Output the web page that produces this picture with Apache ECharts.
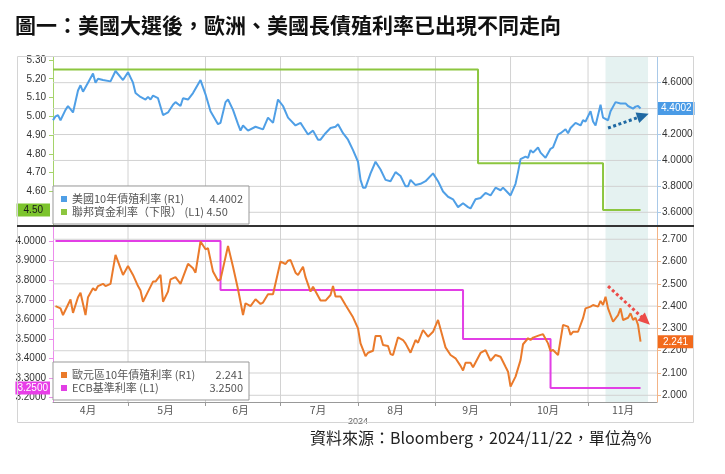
<!DOCTYPE html>
<html><head><meta charset="utf-8">
<script src="https://cdn.jsdelivr.net/npm/echarts@6/dist/echarts.min.js"></script>
<style>html,body{margin:0;padding:0;background:#fff}#c{width:725px;height:474px}</style>
</head><body><div id="c"></div>
<script>
const YEAR = 2024;
// US 10Y yield (right axis, top panel)
const usDates = ['04-01','04-02','04-03','04-04','04-06','04-07','04-09','04-11','04-12','04-13','04-15','04-17','04-18','04-19','04-21','04-24','04-26','04-29',
'05-01','05-03','05-04','05-06','05-08','05-09','05-10','05-11','05-13','05-15','05-17','05-19','05-20','05-22','05-23','05-25','05-27','05-30',
'06-01','06-03','06-06','06-07','06-09','06-10','06-12','06-14','06-15','06-16','06-18','06-21','06-24','06-26','06-28','06-30',
'07-02','07-04','07-07','07-09','07-10','07-12','07-14','07-16','07-17','07-19','07-21','07-23','07-24','07-26','07-28','07-30',
'08-01','08-02','08-03','08-04','08-06','08-08','08-10','08-12','08-14','08-16','08-18','08-20','08-21','08-22','08-24','08-26','08-28','08-31',
'09-02','09-04','09-06','09-08','09-10','09-12','09-14','09-15','09-17','09-19','09-21','09-23','09-25','09-27','09-28','09-29',
'10-01','10-03','10-04','10-05','10-07','10-08','10-09','10-10','10-12','10-13','10-15','10-17','10-18','10-20','10-21','10-23','10-24','10-25','10-27','10-29','10-30','10-31',
'11-02','11-03','11-04','11-06','11-07','11-09','11-10','11-12','11-14','11-16','11-17','11-19','11-20','11-21','11-22'];
const usYield = [4.31,4.34,4.35,4.31,4.39,4.42,4.37,4.54,4.58,4.53,4.60,4.67,4.60,4.63,4.62,4.61,4.69,4.62,
4.68,4.60,4.52,4.49,4.47,4.49,4.47,4.50,4.48,4.35,4.37,4.43,4.45,4.42,4.48,4.47,4.52,4.62,
4.51,4.38,4.28,4.29,4.45,4.47,4.39,4.28,4.23,4.27,4.23,4.26,4.24,4.33,4.29,4.47,
4.42,4.33,4.27,4.29,4.26,4.20,4.23,4.16,4.16,4.21,4.25,4.26,4.28,4.21,4.16,4.08,
3.99,3.85,3.79,3.79,3.90,3.99,3.93,3.85,3.84,3.91,3.88,3.80,3.80,3.85,3.81,3.82,3.84,3.90,
3.84,3.76,3.72,3.70,3.64,3.67,3.64,3.63,3.70,3.71,3.75,3.73,3.79,3.77,3.79,3.77,
3.73,3.82,3.91,4.01,4.03,4.02,4.08,4.06,4.10,4.06,4.02,4.09,4.10,4.20,4.21,4.24,4.21,4.25,4.29,4.27,4.31,4.30,
4.38,4.30,4.27,4.43,4.33,4.31,4.38,4.45,4.44,4.44,4.42,4.40,4.415,4.42,4.4002];
// Euro area 10Y yield (right axis, bottom panel)
const euDates = ['04-02','04-04','04-05','04-08','04-09','04-11','04-12','04-14','04-15','04-17','04-18','04-19','04-21','04-22','04-24','04-26','04-29',
'05-01','05-03','05-05','05-06','05-07','05-09','05-11','05-12','05-14','05-15','05-17','05-18','05-20','05-22','05-25','05-27','05-28','05-30',
'06-01','06-02','06-04','06-06','06-07','06-10','06-12','06-14','06-16','06-17','06-19','06-21','06-23','06-24','06-26','06-28',
'07-01','07-03','07-04','07-05','07-07','07-08','07-10','07-11','07-13','07-14','07-17','07-19','07-21','07-22','07-23','07-25','07-27','07-30',
'08-01','08-02','08-04','08-05','08-07','08-08','08-10','08-11','08-13','08-14','08-15','08-17','08-19','08-20','08-22','08-24','08-25','08-27','08-29','08-31',
'09-02','09-04','09-05','09-07','09-09','09-11','09-12','09-13','09-15','09-16','09-19','09-21','09-23','09-25','09-27','09-29','09-30',
'10-01','10-03','10-05','10-06','10-08','10-09','10-10','10-13','10-14','10-16','10-17','10-18','10-20','10-22','10-24','10-25','10-26','10-28','10-30','10-31',
'11-02','11-03','11-05','11-06','11-07','11-08','11-09','11-11','11-13','11-14','11-15','11-17','11-18','11-19','11-20','11-21','11-22'];
const euYield = [2.40,2.39,2.36,2.43,2.37,2.44,2.46,2.36,2.44,2.48,2.47,2.49,2.50,2.49,2.50,2.63,2.54,
2.58,2.54,2.49,2.47,2.42,2.465,2.51,2.51,2.54,2.42,2.465,2.52,2.53,2.50,2.59,2.57,2.55,2.69,
2.655,2.66,2.555,2.514,2.52,2.67,2.577,2.476,2.36,2.413,2.40,2.431,2.41,2.416,2.453,2.453,
2.60,2.589,2.604,2.607,2.55,2.54,2.577,2.53,2.465,2.487,2.425,2.425,2.45,2.49,2.443,2.443,2.405,2.35,
2.30,2.233,2.176,2.191,2.20,2.266,2.266,2.226,2.221,2.185,2.181,2.26,2.248,2.233,2.191,2.248,2.236,2.293,2.263,2.285,
2.338,2.256,2.215,2.181,2.166,2.132,2.111,2.146,2.146,2.126,2.19,2.203,2.155,2.181,2.173,2.128,2.106,
2.039,2.084,2.158,2.229,2.256,2.248,2.259,2.271,2.274,2.233,2.199,2.203,2.181,2.316,2.308,2.271,2.285,2.285,2.346,2.39,
2.398,2.405,2.398,2.423,2.405,2.442,2.39,2.33,2.36,2.39,2.338,2.348,2.368,2.338,2.348,2.316,2.241];
// Policy rates (left axes), each value holds from its date until the next
const fedDates = ['04-01','09-18','11-07','11-22'];
const fedRate = [5.25,4.75,4.50,4.50];
const ecbDates = ['04-02','06-07','09-12','10-17','11-22'];
const ecbRate = [4.00,3.75,3.50,3.25,3.25];
// Axis ticks / labels
const monthStarts = ['05-01','06-01','07-01','08-01','09-01','10-01','11-01'];
const monthLabelDates = ['04-15','05-16','06-15','07-16','08-16','09-15','10-16','11-15'];
const monthLabels = ['4月','5月','6月','7月','8月','9月','10月','11月'];
const yearLabelDate = '08-01';
const yearLabel = '2024';
const fedTicks = [4.6,4.7,4.8,4.9,5.0,5.1,5.2,5.3];
const usTicks = [3.6,3.8,4.0,4.2,4.4,4.6];
const ecbTicks = [3.2,3.3,3.4,3.5,3.6,3.7,3.8,3.9,4.0];
const euTicks = [2.0,2.1,2.2,2.3,2.4,2.5,2.6,2.7];
// Annotations
const shadeRange = ['11-08','11-25'];
const usArrow = [['11-09',4.25],['11-23',4.345]];
const euArrow = [['11-09',2.49],['11-24',2.335]];

const nameUS = '美國10年債殖利率 (R1)';
const nameFed = '聯邦資金利率（下限） (L1)';
const nameEU = '歐元區10年債殖利率 (R1)';
const nameECB = 'ECB基準利率 (L1)';

const d = s => { const p = s.split('-'); return +new Date(YEAR, +p[0] - 1, +p[1]); };
const pair = (ds, vs) => ds.map((t, i) => [d(t), vs[i]]);
const lastOf = a => a[a.length - 1];
const legendValue = {};
legendValue[nameUS] = lastOf(usYield).toFixed(4);
legendValue[nameFed] = lastOf(fedRate).toFixed(2);
legendValue[nameEU] = lastOf(euYield).toFixed(3);
legendValue[nameECB] = lastOf(ecbRate).toFixed(4);

const C = {us:'#4f9fe6', fed:'#8cc63f', eu:'#ea7a2b', ecb:'#e23fe5'};
const NUMF = 'Liberation Sans';
const CJK = 'Noto Sans CJK TC';
const pad2 = n => String(n).padStart(2, '0');
const mmdd = v => { const t = new Date(v); return pad2(t.getMonth() + 1) + '-' + pad2(t.getDate()); };
const xMin = +new Date(2024, 3, 1);
const xMax = +new Date(2024, 10, 28, 14);
const AX = {fed: [4.42, 5.316], us: [3.502, 4.798], ecb: [3.178, 4.0715], eu: [1.970, 2.755]};

function yAx(grid, pos, ext, ticks, dec, col) {
  return {
    type: 'value', gridIndex: grid, position: pos, min: ext[0], max: ext[1],
    axisLine: {show: true, lineStyle: {color: col, width: 1}},
    axisTick: {show: true, length: 4, customValues: ticks, lineStyle: {color: col}},
    axisLabel: {customValues: ticks, margin: pos === 'left' ? 7 : 5, fontSize: 10, fontFamily: NUMF, color: '#333',
      formatter: v => Number(v).toFixed(dec)},
    splitLine: {show: false}
  };
}

function legend(top, names) {
  return {
    data: names, orient: 'vertical', left: 53, top: top, itemWidth: 6, itemHeight: 6, itemGap: 1, icon: 'rect',
    padding: [7, 6, 6, 8], backgroundColor: '#fff', borderColor: '#999', borderWidth: 1, borderRadius: 0,
    selectedMode: false, z: 6,
    textStyle: {fontFamily: CJK, fontSize: 11, color: '#555', lineHeight: 12,
      rich: {a: {width: 128, fontSize: 11, color: '#555', fontFamily: CJK},
             b: {width: 43, align: 'right', fontSize: 11, color: '#555', fontFamily: CJK},
             c: {fontSize: 11, color: '#555', fontFamily: CJK}}},
    formatter: n => n === nameFed ? '{c|' + n + ' ' + legendValue[n] + '}' : '{a|' + n + '}{b|' + legendValue[n] + '}'
  };
}

function valueLabel(val, text, pos, bg, fg, padX) {
  return {yAxis: val, lineStyle: {color: 'rgba(0,0,0,0)', width: 1}, symbol: 'none',
    label: {show: true, position: pos, distance: pos === 'start' ? 3 : 1, formatter: text, backgroundColor: bg, color: fg,
      padding: [2, padX, 1, padX], fontSize: 10, fontFamily: NUMF}};
}
function arrow(pts, col) {
  return [{coord: [d(pts[0][0]), pts[0][1]], symbol: 'none', lineStyle: {color: col, width: 3, type: [3, 2.5]}, label: {show: false}},
          {coord: [d(pts[1][0]), pts[1][1]], symbol: 'triangle', symbolSize: [11, 12]}];
}
const shade = {silent: true, itemStyle: {color: 'rgba(150,205,200,0.25)'}, data: [[{xAxis: d(shadeRange[0])}, {xAxis: d(shadeRange[1])}]]};
// light gridlines (month starts + right-axis ticks), each a thin line series under the data
function gridSeries(xi, yi, ticks, ext) {
  const segs = monthStarts.map(m => [[d(m), ext[0]], [d(m), ext[1]]])
    .concat(ticks.map(v => [[xMin, v], [xMax, v]]));
  return segs.map(s => ({type: 'line', xAxisIndex: xi, yAxisIndex: yi, data: s, symbol: 'none', showSymbol: false,
    silent: true, z: 1, animation: false, lineStyle: {color: '#d2d2d2', width: 1, type: 'solid'}, itemStyle: {color: '#d2d2d2'}}));
}

const chart = echarts.init(document.getElementById('c'), null, {renderer: 'canvas'});
chart.setOption({
  animation: false,
  backgroundColor: '#fff',
  title: [
    {text: '圖一：美國大選後，歐洲、美國長債殖利率已出現不同走向', left: 15, top: 15, padding: 0,
     textStyle: {fontFamily: CJK, fontSize: 21, fontWeight: 'bold', color: '#111'}},
    {text: '資料來源：Bloomberg，2024/11/22，單位為%', left: 310, top: 430, padding: 0,
     textStyle: {fontFamily: CJK, fontSize: 16, fontWeight: 'normal', color: '#222'}}
  ],
  graphic: [
    {type: 'rect', shape: {x: 17.5, y: 56.5, width: 676, height: 366}, style: {fill: 'none', stroke: '#d4d4d4', lineWidth: 1}, z: 10, silent: true},
    {type: 'line', shape: {x1: 17, y1: 226, x2: 694, y2: 226}, style: {stroke: '#333', lineWidth: 2}, z: 10, silent: true}
  ],
  legend: [legend(186, [nameUS, nameFed]), legend(362, [nameEU, nameECB])],
  grid: [
    {left: 53, top: 57, width: 604, height: 168, outerBoundsMode: 'none'},
    {left: 53, top: 227, width: 604, height: 175, outerBoundsMode: 'none'}
  ],
  xAxis: [
    {type: 'value', gridIndex: 0, min: xMin, max: xMax,
     axisLine: {show: false}, axisTick: {show: false}, axisLabel: {show: false}, splitLine: {show: false}},
    {type: 'value', gridIndex: 1, min: xMin, max: xMax,
     axisLine: {show: true, lineStyle: {color: '#999'}},
     axisTick: {show: true, length: 4, customValues: monthStarts.map(d), lineStyle: {color: '#999'}},
     axisLabel: {customValues: monthLabelDates.map(d).concat([d(yearLabelDate)]), margin: 3, fontSize: 10.5, fontFamily: CJK, color: '#555',
       hideOverlap: false,
       formatter: v => { const k = mmdd(v); if (k === yearLabelDate) return '{y|' + yearLabel + '}'; const i = monthLabelDates.indexOf(k); return i >= 0 ? monthLabels[i] : ''; },
       rich: {y: {fontSize: 9, color: '#666', fontFamily: NUMF, padding: [12, 0, 0, 0]}}},
     splitLine: {show: false}}
  ],
  yAxis: [
    yAx(0, 'left', AX.fed, fedTicks, 2, '#a5d36a'),
    yAx(0, 'right', AX.us, usTicks, 4, '#a9c9e8'),
    yAx(1, 'left', AX.ecb, ecbTicks, 4, '#ec8cec'),
    yAx(1, 'right', AX.eu, euTicks, 3, '#f3b487')
  ],
  series: [
    {name: nameUS, type: 'line', xAxisIndex: 0, yAxisIndex: 1, data: pair(usDates, usYield), symbol: 'none', showSymbol: false,
     lineStyle: {color: C.us, width: 2}, itemStyle: {color: C.us}, z: 3,
     markArea: shade,
     markLine: {silent: true, symbol: ['none', 'none'], data: [
       valueLabel(lastOf(usYield), legendValue[nameUS], 'end', '#4a9be6', '#fff', 3),
       arrow(usArrow, '#1f69a3')]}},
    {name: nameFed, type: 'line', xAxisIndex: 0, yAxisIndex: 0, data: pair(fedDates, fedRate), step: 'end', symbol: 'none', showSymbol: false,
     lineStyle: {color: C.fed, width: 2}, itemStyle: {color: C.fed}, z: 2,
     markLine: {silent: true, symbol: ['none', 'none'], data: [valueLabel(lastOf(fedRate), legendValue[nameFed], 'start', '#7cc42c', '#1a1a1a', 7)]}},
    {name: nameEU, type: 'line', xAxisIndex: 1, yAxisIndex: 3, data: pair(euDates, euYield), symbol: 'none', showSymbol: false,
     lineStyle: {color: C.eu, width: 2}, itemStyle: {color: C.eu}, z: 3,
     markArea: shade,
     markLine: {silent: true, symbol: ['none', 'none'], data: [
       valueLabel(lastOf(euYield), legendValue[nameEU], 'end', '#f26a1c', '#fff', 5),
       arrow(euArrow, '#ec4c48')]}},
    {name: nameECB, type: 'line', xAxisIndex: 1, yAxisIndex: 2, data: pair(ecbDates, ecbRate), step: 'end', symbol: 'none', showSymbol: false,
     lineStyle: {color: C.ecb, width: 2}, itemStyle: {color: C.ecb}, z: 2,
     markLine: {silent: true, symbol: ['none', 'none'], data: [valueLabel(lastOf(ecbRate), legendValue[nameECB], 'start', '#e83ee8', '#fff', 2)]}}
  ].concat(gridSeries(0, 1, usTicks, AX.us), gridSeries(1, 3, euTicks, AX.eu))
});
</script></body></html>
